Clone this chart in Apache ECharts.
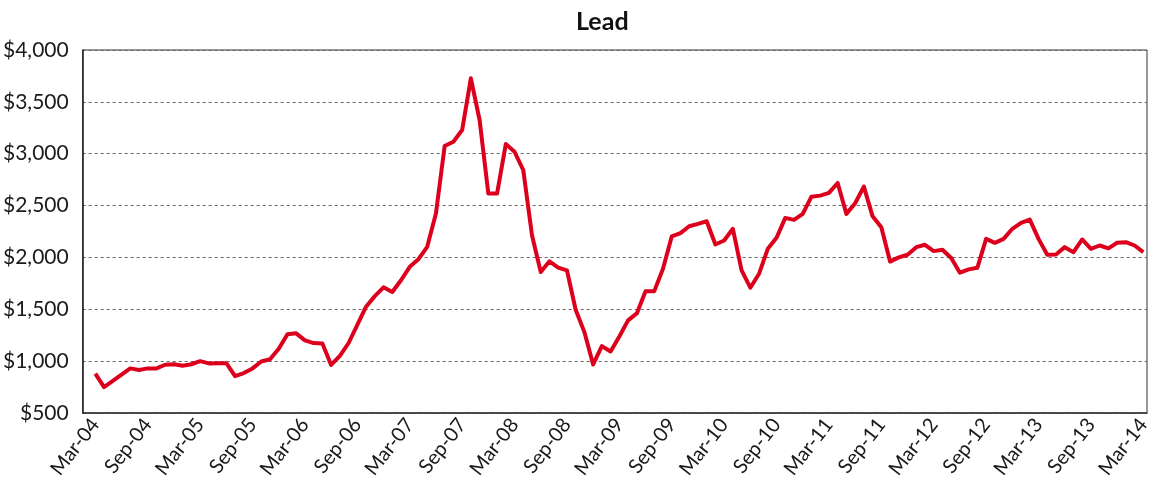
<!DOCTYPE html>
<html>
<head>
<meta charset="utf-8">
<script src="https://cdn.jsdelivr.net/npm/echarts@6/dist/echarts.min.js"></script>
<style>
  html, body { margin: 0; padding: 0; background: #fff; }
  #chart { width: 1157px; height: 492px; }
</style>
</head>
<body>
<div id="chart"></div>
<script>
// monthly lead price, Mar-04 .. Mar-14 (USD / tonne)
const tickLabels = ['Mar-04', 'Sep-04', 'Mar-05', 'Sep-05', 'Mar-06', 'Sep-06', 'Mar-07',
    'Sep-07', 'Mar-08', 'Sep-08', 'Mar-09', 'Sep-09', 'Mar-10', 'Sep-10', 'Mar-11',
    'Sep-11', 'Mar-12', 'Sep-12', 'Mar-13', 'Sep-13', 'Mar-14'];
const monthsPerTick = 6;

const leadPrice = [
    880, 750, 810, 870, 930, 915, 930, 930, 965, 970, 955, 970,
    1000, 978, 980, 980, 855, 885, 930, 997, 1018, 1120, 1260, 1268,
    1200, 1174, 1170, 963, 1050, 1175, 1350, 1525, 1627, 1712, 1667, 1780,
    1909, 1983, 2102, 2423, 3074, 3116, 3228, 3727, 3325, 2616, 2616, 3093,
    3019, 2842, 2214, 1860, 1963, 1902, 1876, 1496, 1280, 968, 1145, 1093,
    1238, 1393, 1460, 1673, 1675, 1891, 2202, 2234, 2301, 2324, 2349, 2125,
    2163, 2276, 1875, 1708, 1843, 2083, 2189, 2381, 2362, 2420, 2586, 2596,
    2622, 2718, 2420, 2522, 2683, 2396, 2290, 1960, 2000, 2026, 2099, 2122,
    2061, 2074, 1994, 1853, 1885, 1901, 2179, 2141, 2179, 2276, 2333, 2365,
    2179, 2026, 2029, 2099, 2051, 2173, 2083, 2115, 2087, 2141, 2147, 2115,
    2051
];

const chart = echarts.init(document.getElementById('chart'));

const tickPositions = tickLabels.map((_, i) => i * monthsPerTick);
const fontFamily = 'Lato, "Noto Sans", sans-serif';

const option = {
    animation: false,
    title: {
        text: 'Lead',
        left: 571,
        top: 4,
        textStyle: { fontFamily: fontFamily, fontSize: 25, fontWeight: 'bold', color: '#111' }
    },
    grid: {
        left: 82,
        right: 10,
        top: 50,
        bottom: 79,
        show: true,
        borderColor: '#333',
        borderWidth: 1
    },
    xAxis: {
        type: 'value',
        min: -1.45,
        max: 120.42,
        axisLine: { show: true, onZero: false, lineStyle: { color: '#333', width: 1.5 } },
        axisTick: { show: false },
        splitLine: { show: false },
        axisLabel: {
            customValues: tickPositions,
            formatter: v => tickLabels[Math.round(v / monthsPerTick)],
            rotate: 52,
            margin: 8,
            fontFamily: fontFamily,
            fontSize: 20,
            color: '#1a1a1a'
        }
    },
    yAxis: {
        type: 'value',
        min: 500,
        max: 4000,
        interval: 500,
        axisLine: { show: true, onZero: false, lineStyle: { color: '#222', width: 1.5 } },
        axisTick: { show: false },
        splitLine: { lineStyle: { color: '#666', type: [3, 3], width: 1 } },
        axisLabel: {
            formatter: v => '$' + v.toLocaleString('en-US'),
            margin: 14,
            fontFamily: fontFamily,
            fontSize: 21,
            color: '#1a1a1a'
        }
    },
    series: [{
        type: 'line',
        data: leadPrice.map((v, i) => [i, v]),
        showSymbol: false,
        lineStyle: { color: '#dc001c', width: 4, join: 'round' },
        itemStyle: { color: '#dc001c' }
    }]
};

chart.setOption(option);
</script>
</body>
</html>
